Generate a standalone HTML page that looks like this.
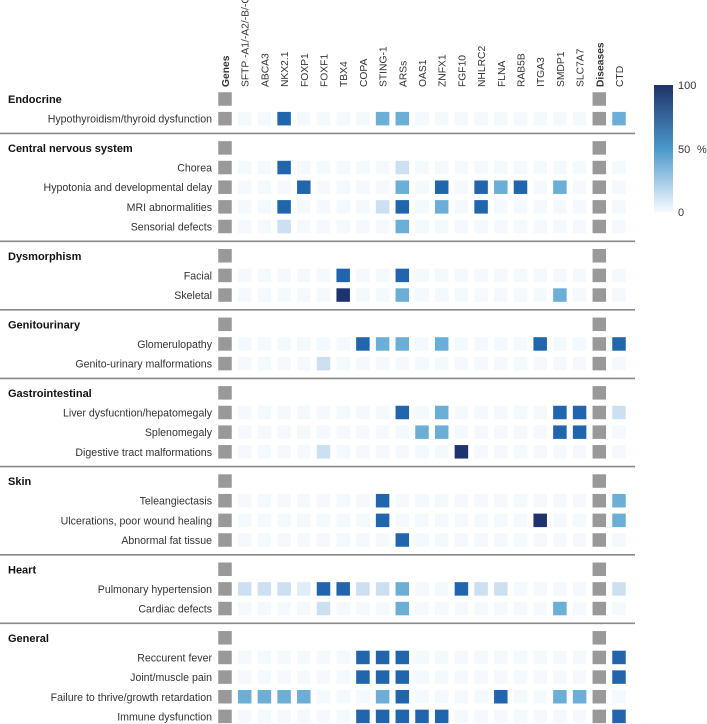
<!DOCTYPE html>
<html><head><meta charset="utf-8"><style>
html,body{margin:0;padding:0;background:#fff;}
svg{display:block;font-family:"Liberation Sans",sans-serif;}
</style></head><body>
<svg id="chart" width="707" height="724" viewBox="0 0 707 724" xmlns="http://www.w3.org/2000/svg">
<defs><linearGradient id="cbar" x1="0" y1="1" x2="0" y2="0">
<stop offset="0" stop-color="#f7fbff"/><stop offset="0.5" stop-color="#4b98cb"/><stop offset="1" stop-color="#1f3468"/></linearGradient></defs>
<rect x="654" y="85" width="19" height="127" fill="url(#cbar)"/>
<text x="678" y="89" font-size="11" fill="#333">100</text>
<text x="678" y="153" font-size="11" fill="#333">50</text>
<text x="678" y="216" font-size="11" fill="#333">0</text>
<text x="697" y="153" font-size="11" fill="#333">%</text>
</svg>
<script>
const columns = ["Genes","SFTP -A1/-A2/-B/-C","ABCA3","NKX2.1","FOXP1","FOXF1","TBX4","COPA","STING-1","ARSs","OAS1","ZNFX1","FGF10","NHLRC2","FLNA","RAB5B","ITGA3","SMDP1","SLC7A7","Diseases","CTD"];
const sections = ["Endocrine","Central nervous system","Dysmorphism","Genitourinary","Gastrointestinal","Skin","Heart","General"];
const rowLabels = [
 ["Hypothyroidism/thyroid dysfunction"],
 ["Chorea","Hypotonia and developmental delay","MRI abnormalities","Sensorial defects"],
 ["Facial","Skeletal"],
 ["Glomerulopathy","Genito-urinary malformations"],
 ["Liver dysfucntion/hepatomegaly","Splenomegaly","Digestive  tract malformations"],
 ["Teleangiectasis","Ulcerations, poor wound healing","Abnormal fat tissue"],
 ["Pulmonary hypertension","Cardiac defects"],
 ["Reccurent fever","Joint/muscle pain","Failure to thrive/growth retardation","Immune dysfunction"]
];
const values = [
 [[0,0,75,0,0,0,0,50,50,0,0,0,0,0,0,0,0,0,50]],
 [[0,0,75,0,0,0,0,0,20,0,0,0,0,0,0,0,0,0,0],
  [0,0,0,75,0,0,0,0,50,0,75,0,75,50,75,0,50,0,0],
  [0,0,75,0,0,0,0,20,75,0,50,0,75,0,0,0,0,0,0],
  [0,0,20,0,0,0,0,0,50,0,0,0,0,0,0,0,0,0,0]],
 [[0,0,0,0,0,75,0,0,75,0,0,0,0,0,0,0,0,0,0],
  [0,0,0,0,0,100,0,0,50,0,0,0,0,0,0,0,50,0,0]],
 [[0,0,0,0,0,0,75,50,50,0,50,0,0,0,0,75,0,0,75],
  [0,0,0,0,20,0,0,0,0,0,0,0,0,0,0,0,0,0,0]],
 [[0,0,0,0,0,0,0,0,75,0,50,0,0,0,0,0,75,75,20],
  [0,0,0,0,0,0,0,0,0,50,50,0,0,0,0,0,75,75,0],
  [0,0,0,0,20,0,0,0,0,0,0,100,0,0,0,0,0,0,0]],
 [[0,0,0,0,0,0,0,75,0,0,0,0,0,0,0,0,0,0,50],
  [0,0,0,0,0,0,0,75,0,0,0,0,0,0,0,100,0,0,50],
  [0,0,0,0,0,0,0,0,75,0,0,0,0,0,0,0,0,0,0]],
 [[20,20,20,10,75,75,20,20,50,0,0,75,20,20,0,0,0,0,20],
  [0,0,0,0,20,0,0,0,50,0,0,0,0,0,0,0,50,0,0]],
 [[0,0,0,0,0,0,75,75,75,0,0,0,0,0,0,0,0,0,75],
  [0,0,0,0,0,0,75,75,75,0,0,0,0,0,0,0,0,0,75],
  [50,50,50,50,0,0,0,50,75,0,0,0,0,75,0,0,50,50,0],
  [0,0,0,0,0,0,75,75,75,75,75,0,0,0,0,0,0,0,75]]
];
const svg = document.getElementById('chart');
const NS = "http://www.w3.org/2000/svg";
const colX = i => 225 + i*19.7;
const CELL = 13.5, STEP = 19.65, GAP = 9.6, TOP = 99;
function color(v){
  const stops=[[0,[244,249,254]],[20,[205,224,242]],[50,[107,174,214]],[75,[33,102,172]],[100,[31,52,110]]];
  for(let i=1;i<stops.length;i++){ if(v<=stops[i][0]){const a=stops[i-1],b=stops[i];const t=(v-a[0])/(b[0]-a[0]);
    return 'rgb('+a[1].map((c,k)=>Math.round(c+(b[1][k]-c)*t)).join(',')+')';}}
  return 'rgb(31,52,110)';
}
function mk(tag,attrs,text){const e=document.createElementNS(NS,tag);for(const k in attrs)e.setAttribute(k,attrs[k]);if(text!==undefined)e.textContent=text;svg.appendChild(e);return e;}
columns.forEach((c,i)=>{
  const bold = (c==="Genes"||c==="Diseases");
  const x=colX(i)+4, y=87;
  const t=mk('text',{x:x,y:y,'font-size':10.3,fill:'#333','font-weight':bold?'bold':'normal',transform:'rotate(-90 '+x+' '+y+')'},c);
  
  
});
let row=0;
sections.forEach((s,si)=>{
  const yH = TOP + row*STEP + si*GAP;
  const h=mk('text',{x:8,y:yH+4,'font-size':11,'font-weight':'bold',fill:'#111'},s);
  
  
  [0,19].forEach(ci=>{const r=mk('rect',{x:colX(ci)-CELL/2,y:yH-CELL/2,width:CELL,height:CELL,fill:'#999'});
    
    });
  row++;
  let lastY=yH;
  rowLabels[si].forEach((lab,ri)=>{
    const y = TOP + row*STEP + si*GAP; lastY=y;
    const l=mk('text',{x:212,y:y+4,'font-size':10.6,fill:'#333','text-anchor':'end'},lab);
    
    
    [0,19].forEach(ci=>{const r=mk('rect',{x:colX(ci)-CELL/2,y:y-CELL/2,width:CELL,height:CELL,fill:'#999'});
      
      });
    values[si][ri].forEach((v,vi)=>{
      const ci = vi<18 ? vi+1 : 20;
      const r=mk('rect',{x:colX(ci)-CELL/2,y:y-CELL/2,width:CELL,height:CELL,fill:color(v)});
      
      
    });
    row++;
  });
  if(si<sections.length-1){
    const ly=lastY+14.8;
    const ln=mk('line',{x1:0,x2:635,y1:ly,y2:ly,stroke:'#8a8a8a','stroke-width':1.6});
    
    
  }
});
</script>
</body></html>
